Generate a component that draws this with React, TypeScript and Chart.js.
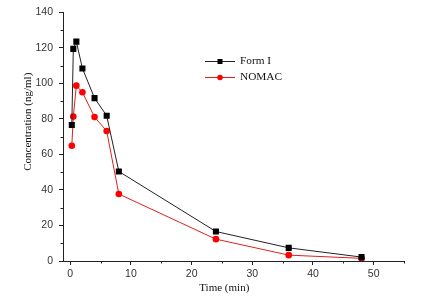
import React, { useEffect, useRef } from "react";
import { Chart, registerables } from "chart.js";

Chart.register(...registerables);

const times = [0.25, 0.5, 1, 2, 4, 6, 8, 24, 36, 48];
const formI = [76.6, 119.4, 123.5, 108.4, 91.7, 81.8, 50.4, 16.6, 7.4, 2.2];
const nomac = [64.9, 81.3, 98.7, 95.0, 81.0, 73.2, 37.7, 12.3, 3.3, 1.5];
const xTicks = [0, 10, 20, 30, 40, 50];
const yTicks = [0, 20, 40, 60, 80, 100, 120, 140];
const xMinorTicks = [5, 15, 25, 35, 45, 55];
const yMinorTicks = [10, 30, 50, 70, 90, 110, 130];
const seriesLabels = ["Form I", "NOMAC"];
const xTitle = "Time (min)";
const yTitle = "Concentration (ng/ml)";

const SERIF = "'Liberation Serif', 'Times New Roman', serif";
const SANS = "'Liberation Sans', Arial, sans-serif";
const AXIS = "#222";

const extras = {
  id: "extras",
  afterDraw(chart: any) {
    const ctx = chart.ctx;
    const xs = chart.scales.x;
    const ys = chart.scales.y;
    const ca = chart.chartArea;
    ctx.save();
    ctx.strokeStyle = AXIS;
    ctx.lineWidth = 1;
    ctx.beginPath();
    xMinorTicks.forEach((v) => {
      const px = Math.round(xs.getPixelForValue(v)) + 0.5;
      ctx.moveTo(px, ca.bottom);
      ctx.lineTo(px, ca.bottom + 2.5);
    });
    yMinorTicks.forEach((v) => {
      const py = Math.round(ys.getPixelForValue(v)) + 0.5;
      ctx.moveTo(ca.left, py);
      ctx.lineTo(ca.left - 2.5, py);
    });
    ctx.stroke();

    // axis titles
    ctx.fillStyle = "#111";
    ctx.font = `11px ${SERIF}`;
    ctx.textAlign = "center";
    ctx.textBaseline = "middle";
    ctx.fillText(xTitle, ca.left + (ca.right - ca.left) * 0.473, 288);
    ctx.save();
    ctx.translate(28, ca.top + (ca.bottom - ca.top) * 0.44);
    ctx.rotate(-Math.PI / 2);
    ctx.fillText(yTitle, 0, 0);
    ctx.restore();

    // legend
    const lx0 = 205;
    const lx1 = 235;
    const ly = [61, 77];
    chart.data.datasets.forEach((ds: any, i: number) => {
      const y = ly[i];
      ctx.strokeStyle = ds.borderColor;
      ctx.lineWidth = 1;
      ctx.beginPath();
      ctx.moveTo(lx0, y + 0.5);
      ctx.lineTo(lx1, y + 0.5);
      ctx.stroke();
      ctx.fillStyle = ds.pointBackgroundColor;
      const cx = (lx0 + lx1) / 2;
      if (ds.pointStyle === "rect") {
        ctx.fillRect(cx - 2.5, y - 2.5 + 0.5, 5, 5);
      } else {
        ctx.beginPath();
        ctx.arc(cx, y + 0.5, 2.8, 0, Math.PI * 2);
        ctx.fill();
      }
      ctx.fillStyle = "#111";
      ctx.font = `11.3px ${SERIF}`;
      ctx.textAlign = "left";
      ctx.fillText(ds.label, 240, y + 0.5);
    });
    ctx.restore();
  },
};

export default function App() {
  const ref = useRef<HTMLCanvasElement>(null);
  useEffect(() => {
    document.body.style.margin = "0";
    const chart = new Chart(ref.current!, {
      type: "line",
      data: {
        datasets: [
          {
            label: seriesLabels[0],
            data: times.map((t, i) => ({ x: t, y: formI[i] })),
            borderColor: "#222",
            backgroundColor: "#000",
            pointBackgroundColor: "#000",
            pointBorderColor: "#000",
            pointStyle: "rect",
            pointRadius: 4.3,
            pointBorderWidth: 0,
            borderWidth: 1,
          },
          {
            label: seriesLabels[1],
            data: times.map((t, i) => ({ x: t, y: nomac[i] })),
            borderColor: "#e0201c",
            backgroundColor: "#ff0000",
            pointBackgroundColor: "#ff0000",
            pointBorderColor: "#ff0000",
            pointStyle: "circle",
            pointRadius: 3.3,
            pointBorderWidth: 0,
            borderWidth: 1,
          },
        ],
      },
      plugins: [extras],
      options: {
        responsive: false,
        animation: false,
        layout: { padding: { top: 8, right: 27, left: 0, bottom: 0 } },
        plugins: { legend: { display: false }, tooltip: { enabled: false } },
        scales: {
          x: {
            type: "linear",
            min: -1.2,
            max: 55,
            afterBuildTicks: (s: any) => {
              s.ticks = xTicks.map((v) => ({ value: v }));
            },
            afterFit: (s: any) => {
              s.height = 37;
            },
            border: { color: AXIS, width: 1 },
            grid: { drawOnChartArea: false, drawTicks: true, tickLength: 4, color: AXIS },
            ticks: { color: "#333", font: { family: SANS, size: 10.5 }, padding: 3, maxRotation: 0 },
          },
          y: {
            min: 0,
            max: 140,
            afterBuildTicks: (s: any) => {
              s.ticks = yTicks.map((v) => ({ value: v }));
            },
            afterFit: (s: any) => {
              s.width = 63;
            },
            border: { color: AXIS, width: 1 },
            grid: { drawOnChartArea: false, drawTicks: true, tickLength: 4, color: AXIS },
            ticks: { color: "#333", font: { family: SANS, size: 10.5 }, padding: 6 },
          },
        },
      },
    });
    return () => chart.destroy();
  }, []);
  return (
    <div style={{ position: "absolute", left: 0, top: 0, background: "#fff" }}>
      <canvas ref={ref} width={431} height={298} style={{ display: "block" }} />
    </div>
  );
}
